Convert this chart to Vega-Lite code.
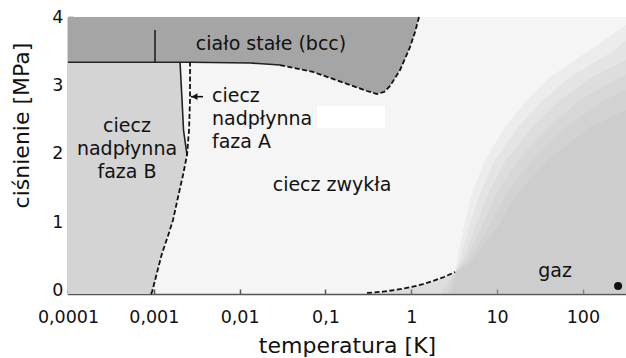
{
  "$schema": "https://vega.github.io/schema/vega-lite/v6.json",
  "width": 558,
  "height": 277,
  "autosize": "none",
  "padding": {"left": 68, "top": 17, "right": 0, "bottom": 64},
  "background": "white",
  "config": {
    "view": {"fill": "#f5f5f5", "stroke": null},
    "font": "DejaVu Sans"
  },
  "datasets": {
    "gas": [
      {"band": 1, "T": 0.3053, "P": -0.05}, {"band": 1, "T": 0.469, "P": -0.016}, {"band": 1, "T": 0.647, "P": 0.009},
      {"band": 1, "T": 0.968, "P": 0.048}, {"band": 1, "T": 1.336, "P": 0.089}, {"band": 1, "T": 1.795, "P": 0.14},
      {"band": 1, "T": 2.41, "P": 0.199}, {"band": 1, "T": 3.24, "P": 0.272}, {"band": 1, "T": 3.42, "P": 0.447},
      {"band": 1, "T": 4.02, "P": 0.886}, {"band": 1, "T": 5.11, "P": 1.427}, {"band": 1, "T": 7.25, "P": 1.909},
      {"band": 1, "T": 12.4, "P": 2.392}, {"band": 1, "T": 22.4, "P": 2.787}, {"band": 1, "T": 41.5, "P": 3.123},
      {"band": 1, "T": 121, "P": 3.518}, {"band": 1, "T": 318, "P": 3.883},
      {"band": 2, "T": 0.3053, "P": -0.05}, {"band": 2, "T": 0.469, "P": -0.016}, {"band": 2, "T": 0.647, "P": 0.009},
      {"band": 2, "T": 0.968, "P": 0.048}, {"band": 2, "T": 1.336, "P": 0.089}, {"band": 2, "T": 1.795, "P": 0.14},
      {"band": 2, "T": 2.41, "P": 0.199}, {"band": 2, "T": 3.24, "P": 0.272}, {"band": 2, "T": 3.71, "P": 0.447},
      {"band": 2, "T": 4.59, "P": 0.886}, {"band": 2, "T": 6.34, "P": 1.427}, {"band": 2, "T": 9.48, "P": 1.909},
      {"band": 2, "T": 17.6, "P": 2.392}, {"band": 2, "T": 34.4, "P": 2.787}, {"band": 2, "T": 70.9, "P": 3.123},
      {"band": 2, "T": 237, "P": 3.518}, {"band": 2, "T": 318, "P": 3.664},
      {"band": 3, "T": 0.3053, "P": -0.05}, {"band": 3, "T": 0.469, "P": -0.016}, {"band": 3, "T": 0.647, "P": 0.009},
      {"band": 3, "T": 0.968, "P": 0.048}, {"band": 3, "T": 1.336, "P": 0.089}, {"band": 3, "T": 1.795, "P": 0.14},
      {"band": 3, "T": 2.41, "P": 0.199}, {"band": 3, "T": 3.24, "P": 0.272}, {"band": 3, "T": 4.02, "P": 0.447},
      {"band": 3, "T": 5.40, "P": 0.886}, {"band": 3, "T": 7.86, "P": 1.427}, {"band": 3, "T": 12.7, "P": 1.909},
      {"band": 3, "T": 25.6, "P": 2.392}, {"band": 3, "T": 54.2, "P": 2.787}, {"band": 3, "T": 128, "P": 3.123},
      {"band": 3, "T": 318, "P": 3.371},
      {"band": 4, "T": 2.2, "P": -0.05}, {"band": 4, "T": 3.24, "P": 0.272}, {"band": 4, "T": 4.35, "P": 0.447},
      {"band": 4, "T": 6.34, "P": 0.886}, {"band": 4, "T": 10.0, "P": 1.427}, {"band": 4, "T": 17.6, "P": 1.909},
      {"band": 4, "T": 39.3, "P": 2.392}, {"band": 4, "T": 92.8, "P": 2.787}, {"band": 4, "T": 271, "P": 3.123},
      {"band": 4, "T": 318, "P": 3.152},
      {"band": 5, "T": 2.6, "P": -0.05}, {"band": 5, "T": 3.33, "P": 0.272}, {"band": 5, "T": 4.72, "P": 0.447},
      {"band": 5, "T": 7.64, "P": 0.886}, {"band": 5, "T": 13.1, "P": 1.427}, {"band": 5, "T": 25.6, "P": 1.909},
      {"band": 5, "T": 63.7, "P": 2.392}, {"band": 5, "T": 181, "P": 2.787}, {"band": 5, "T": 318, "P": 2.933},
      {"band": 6, "T": 3.0, "P": -0.05}, {"band": 6, "T": 3.42, "P": 0.272}, {"band": 6, "T": 5.25, "P": 0.447},
      {"band": 6, "T": 9.48, "P": 0.886}, {"band": 6, "T": 17.6, "P": 1.427}, {"band": 6, "T": 39.3, "P": 1.909},
      {"band": 6, "T": 121, "P": 2.392}, {"band": 6, "T": 318, "P": 2.64}
    ],
    "solid": [
      {"T": 0.0001, "P": 3.338}, {"T": 0.002642, "P": 3.338}, {"T": 0.01321, "P": 3.327},
      {"T": 0.02958, "P": 3.298}, {"T": 0.07168, "P": 3.196}, {"T": 0.1227, "P": 3.094},
      {"T": 0.1935, "P": 3.006}, {"T": 0.3053, "P": 2.918}, {"T": 0.3994, "P": 2.874},
      {"T": 0.482, "P": 2.904}, {"T": 0.5661, "P": 2.991}, {"T": 0.7406, "P": 3.225},
      {"T": 0.968, "P": 3.561}, {"T": 1.107, "P": 3.781}, {"T": 1.233, "P": 4.0}
    ],
    "phaseB": [
      {"T": 0.000927, "P": -0.05}, {"T": 0.000953, "P": -0.02}, {"T": 0.001246, "P": 0.544},
      {"T": 0.001444, "P": 0.778}, {"T": 0.001675, "P": 1.032}, {"T": 0.001915, "P": 1.368},
      {"T": 0.002189, "P": 1.69}, {"T": 0.002437, "P": 1.982}, {"T": 0.002219, "P": 2.348},
      {"T": 0.002132, "P": 2.787}, {"T": 0.00202, "P": 3.342}
    ],
    "curves": [
      {"curve": "melt_low", "i": 1, "T": 0.0001, "P": 3.338},
      {"curve": "melt_low", "i": 2, "T": 0.002642, "P": 3.338},
      {"curve": "melt_low", "i": 3, "T": 0.01321, "P": 3.327},
      {"curve": "melt_low", "i": 4, "T": 0.02958, "P": 3.298},
      {"curve": "melt", "i": 1, "T": 0.02958, "P": 3.298},
      {"curve": "melt", "i": 2, "T": 0.07168, "P": 3.196},
      {"curve": "melt", "i": 3, "T": 0.1227, "P": 3.094},
      {"curve": "melt", "i": 4, "T": 0.1935, "P": 3.006},
      {"curve": "melt", "i": 5, "T": 0.3053, "P": 2.918},
      {"curve": "melt", "i": 6, "T": 0.3994, "P": 2.874},
      {"curve": "melt", "i": 7, "T": 0.482, "P": 2.904},
      {"curve": "melt", "i": 8, "T": 0.5661, "P": 2.991},
      {"curve": "melt", "i": 9, "T": 0.7406, "P": 3.225},
      {"curve": "melt", "i": 10, "T": 0.968, "P": 3.561},
      {"curve": "melt", "i": 11, "T": 1.107, "P": 3.781},
      {"curve": "melt", "i": 12, "T": 1.233, "P": 4.0},
      {"curve": "Tc", "i": 1, "T": 0.000927, "P": -0.05},
      {"curve": "Tc", "i": 2, "T": 0.000953, "P": -0.02},
      {"curve": "Tc", "i": 3, "T": 0.001246, "P": 0.544},
      {"curve": "Tc", "i": 4, "T": 0.001444, "P": 0.778},
      {"curve": "Tc", "i": 5, "T": 0.001675, "P": 1.032},
      {"curve": "Tc", "i": 6, "T": 0.001915, "P": 1.368},
      {"curve": "Tc", "i": 7, "T": 0.002189, "P": 1.69},
      {"curve": "Tc", "i": 8, "T": 0.002437, "P": 1.982},
      {"curve": "Tc", "i": 9, "T": 0.002572, "P": 2.348},
      {"curve": "Tc", "i": 10, "T": 0.002642, "P": 2.787},
      {"curve": "Tc", "i": 11, "T": 0.002642, "P": 3.342},
      {"curve": "AB", "i": 1, "T": 0.002437, "P": 1.982},
      {"curve": "AB", "i": 2, "T": 0.002219, "P": 2.348},
      {"curve": "AB", "i": 3, "T": 0.002132, "P": 2.787},
      {"curve": "AB", "i": 4, "T": 0.00202, "P": 3.342},
      {"curve": "bcc", "i": 1, "T": 0.001033, "P": 3.338},
      {"curve": "bcc", "i": 2, "T": 0.001033, "P": 3.81},
      {"curve": "vapor", "i": 1, "T": 0.3053, "P": -0.035},
      {"curve": "vapor", "i": 2, "T": 0.469, "P": -0.016},
      {"curve": "vapor", "i": 3, "T": 0.647, "P": 0.009},
      {"curve": "vapor", "i": 4, "T": 0.968, "P": 0.048},
      {"curve": "vapor", "i": 5, "T": 1.336, "P": 0.089},
      {"curve": "vapor", "i": 6, "T": 1.795, "P": 0.14},
      {"curve": "vapor", "i": 7, "T": 2.41, "P": 0.199},
      {"curve": "vapor", "i": 8, "T": 3.24, "P": 0.272}
    ],
    "labels": [
      {"text": "ciało stałe (bcc)", "anchor": "center", "T": 0.02323, "P": 3.518},
      {"text": "ciecz", "anchor": "center", "T": 0.000487, "P": 2.319},
      {"text": "nadpłynna", "anchor": "center", "T": 0.000487, "P": 1.982},
      {"text": "faza B", "anchor": "center", "T": 0.000487, "P": 1.646},
      {"text": "ciecz zwykła", "anchor": "center", "T": 0.1194, "P": 1.456},
      {"text": "gaz", "anchor": "center", "T": 47.4, "P": 0.199},
      {"text": "ciecz", "anchor": "left", "T": 0.004764, "P": 2.757},
      {"text": "nadpłynna", "anchor": "left", "T": 0.004764, "P": 2.421},
      {"text": "faza A", "anchor": "left", "T": 0.004764, "P": 2.085}
    ]
  },
  "encoding": {
    "x": {
      "field": "T",
      "type": "quantitative",
      "scale": {"type": "log", "domain": [0.0001, 318], "nice": false, "zero": false},
      "axis": {
        "title": "temperatura [K]",
        "values": [0.0001, 0.001, 0.01, 0.1, 1, 10, 100],
        "labelExpr": "replace(toString(datum.value), '.', ',')",
        "labelFontSize": 17.5,
        "labelColor": "#111",
        "labelFlush": false,
        "labelOverlap": false,
        "labelPadding": 19,
        "titleFontSize": 22,
        "titleFontWeight": "normal",
        "titleColor": "#111",
        "titleBaseline": "alphabetic",
        "titleY": 58,
        "grid": false,
        "domainColor": "#555",
        "domainWidth": 1.5,
        "tickColor": "#555",
        "tickWidth": 1.5,
        "tickSize": -5
      }
    },
    "y": {
      "field": "P",
      "type": "quantitative",
      "scale": {"domain": [-0.05, 4], "nice": false, "zero": false},
      "axis": {
        "title": "ciśnienie [MPa]",
        "values": [0, 1, 2, 3, 4],
        "labelFontSize": 17.5,
        "labelColor": "#111",
        "labelFlush": false,
        "labelOverlap": false,
        "labelPadding": 10,
        "titleFontSize": 22,
        "titleFontWeight": "normal",
        "titleColor": "#111",
        "titleBaseline": "alphabetic",
        "titleAlign": "center",
        "titleX": -40,
        "titleY": 108,
        "grid": false,
        "domainColor": "#555",
        "domainWidth": 1.5,
        "tickColor": "#555",
        "tickWidth": 1.5,
        "tickSize": -5
      }
    }
  },
  "layer": [
    {
      "data": {"name": "gas"},
      "mark": {"type": "area", "color": "#b0b0b0", "opacity": 0.125},
      "encoding": {"detail": {"field": "band"}, "y2": {"datum": -0.05}}
    },
    {
      "data": {"name": "solid"},
      "mark": {"type": "area", "color": "#a5a5a5"},
      "encoding": {"y2": {"datum": 4}}
    },
    {
      "data": {"name": "phaseB"},
      "mark": {"type": "area", "orient": "horizontal", "color": "#d4d4d4"},
      "encoding": {"x2": {"datum": 0.0001}}
    },
    {
      "data": {"values": [{"T": 0.0798, "T2": 0.495, "P": 2.377, "P2": 2.699}]},
      "mark": {"type": "rect", "color": "white"},
      "encoding": {"x2": {"field": "T2"}, "y2": {"field": "P2"}}
    },
    {
      "data": {"name": "curves"},
      "transform": [{"filter": "datum.curve === 'melt_low' || datum.curve === 'AB' || datum.curve === 'bcc'"}],
      "mark": {"type": "line", "color": "#222", "strokeWidth": 1.6},
      "encoding": {"detail": {"field": "curve"}, "order": {"field": "i"}}
    },
    {
      "data": {"name": "curves"},
      "transform": [{"filter": "datum.curve === 'melt' || datum.curve === 'Tc' || datum.curve === 'vapor'"}],
      "mark": {"type": "line", "color": "#111", "strokeWidth": 1.8, "strokeDash": [5, 2.5]},
      "encoding": {"detail": {"field": "curve"}, "order": {"field": "i"}}
    },
    {
      "mark": {"type": "rule", "color": "#555", "strokeWidth": 2},
      "encoding": {"x": {"datum": 0.0001}, "x2": {"datum": 318}, "y": {"datum": 4}}
    },
    {
      "data": {"values": [{"T": 0.002714, "T2": 0.003744, "P": 2.835}]},
      "mark": {"type": "rule", "color": "#111", "strokeWidth": 1.6},
      "encoding": {"x2": {"field": "T2"}}
    },
    {
      "data": {"values": [{"T": 0.002981, "P": 2.835}]},
      "mark": {"type": "point", "shape": "triangle-left", "filled": true, "color": "#111", "size": 45, "opacity": 1}
    },
    {
      "data": {"values": [{"T": 257, "P": 0.067}]},
      "mark": {"type": "point", "shape": "circle", "filled": true, "color": "#111", "size": 64, "opacity": 1}
    },
    {
      "data": {"name": "labels"},
      "transform": [{"filter": "datum.anchor === 'center'"}],
      "mark": {"type": "text", "align": "center", "baseline": "alphabetic", "fontSize": 19, "color": "#111"},
      "encoding": {"text": {"field": "text"}}
    },
    {
      "data": {"name": "labels"},
      "transform": [{"filter": "datum.anchor === 'left'"}],
      "mark": {"type": "text", "align": "left", "baseline": "alphabetic", "fontSize": 19, "color": "#111"},
      "encoding": {"text": {"field": "text"}}
    }
  ]
}
